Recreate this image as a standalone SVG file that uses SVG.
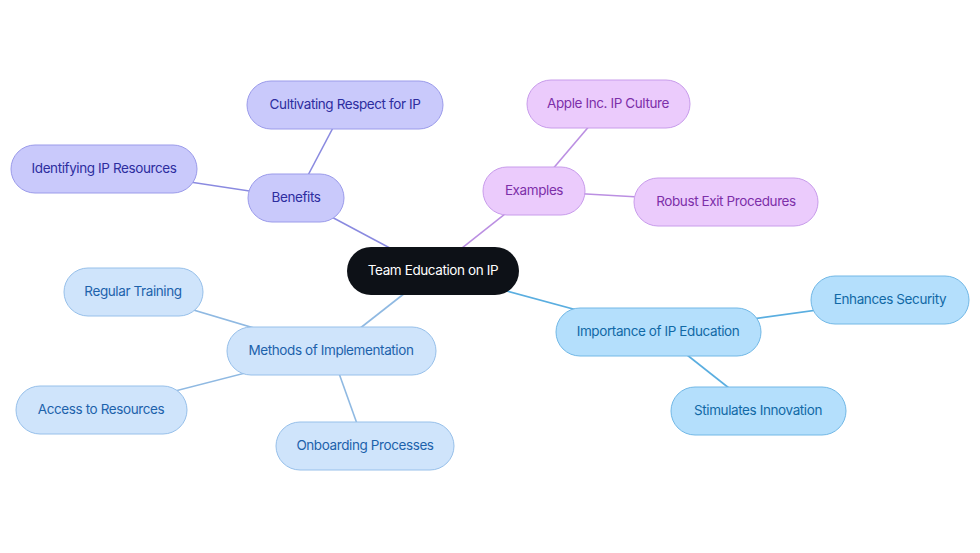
<svg xmlns="http://www.w3.org/2000/svg" width="980" height="553" viewBox="0 0 980 553">
<style>
text{font-family:Inter,"Noto Sans","Liberation Sans",sans-serif;font-size:13.5px;letter-spacing:-0.4px;text-anchor:middle;dominant-baseline:central}
.b rect{fill:#c9c9fb;stroke:#9b9bea;stroke-width:1}
.b text{fill:#2d2d9f}
.e rect{fill:#ebcbfc;stroke:#c89ceb;stroke-width:1}
.e text{fill:#7d2fa9}
.i rect{fill:#b4dffc;stroke:#72b8e6;stroke-width:1}
.i text{fill:#1169a6}
.m rect{fill:#cfe4fb;stroke:#97c0ea;stroke-width:1}
.m text{fill:#1d62ab}
.c rect{fill:#0d1117}
.c text{fill:#ffffff}
#edges line{stroke-width:1.6}
.lb{stroke:#8a8ae0}.le{stroke:#bb8fe2}.li{stroke:#5aaee0}.lm{stroke:#8fb9e2}
</style>
<rect width="980" height="553" fill="#ffffff"/>
<g id="edges">
<line class="lb" x1="433" y1="271" x2="296" y2="198"/>
<line class="lb" x1="296" y1="198" x2="345" y2="105"/>
<line class="lb" x1="296" y1="198" x2="104" y2="169"/>
<line class="le" x1="433" y1="271" x2="534" y2="191"/>
<line class="le" x1="534" y1="191" x2="608" y2="104"/>
<line class="le" x1="534" y1="191" x2="726" y2="202"/>
<line class="li" x1="433" y1="271" x2="658" y2="332"/>
<line class="li" x1="658" y1="332" x2="890" y2="300"/>
<line class="li" x1="658" y1="332" x2="758" y2="411"/>
<line class="lm" x1="433" y1="271" x2="331" y2="351"/>
<line class="lm" x1="331" y1="351" x2="133" y2="292"/>
<line class="lm" x1="331" y1="351" x2="101" y2="410"/>
<line class="lm" x1="331" y1="351" x2="365" y2="446"/>
</g>
<g id="n-center" class="c"><rect x="347" y="247" width="172" height="48" rx="24"/><text x="433" y="270">Team Education on IP</text></g>
<g id="n-benefits" class="b"><rect x="248" y="174" width="96" height="48" rx="24"/><text x="296" y="197">Benefits</text></g>
<g id="n-cultivating" class="b"><rect x="247" y="81" width="196" height="48" rx="24"/><text x="345" y="104">Cultivating Respect for IP</text></g>
<g id="n-identifying" class="b"><rect x="11" y="145" width="186" height="48" rx="24"/><text x="104" y="168">Identifying IP Resources</text></g>
<g id="n-examples" class="e"><rect x="483" y="167" width="102" height="48" rx="24"/><text x="534" y="190">Examples</text></g>
<g id="n-apple" class="e"><rect x="527" y="80" width="163" height="48" rx="24"/><text x="608" y="103">Apple Inc. IP Culture</text></g>
<g id="n-robust" class="e"><rect x="634" y="178" width="184" height="48" rx="24"/><text x="726" y="201">Robust Exit Procedures</text></g>
<g id="n-importance" class="i"><rect x="556" y="308" width="205" height="48" rx="24"/><text x="658" y="331">Importance of IP Education</text></g>
<g id="n-enhances" class="i"><rect x="811" y="276" width="158" height="48" rx="24"/><text x="890" y="299">Enhances Security</text></g>
<g id="n-stimulates" class="i"><rect x="671" y="387" width="175" height="48" rx="24"/><text x="758" y="410">Stimulates Innovation</text></g>
<g id="n-methods" class="m"><rect x="227" y="327" width="209" height="48" rx="24"/><text x="331" y="350">Methods of Implementation</text></g>
<g id="n-regular" class="m"><rect x="64" y="268" width="139" height="48" rx="24"/><text x="133" y="291">Regular Training</text></g>
<g id="n-access" class="m"><rect x="16" y="386" width="171" height="48" rx="24"/><text x="101" y="409">Access to Resources</text></g>
<g id="n-onboarding" class="m"><rect x="276" y="422" width="178" height="48" rx="24"/><text x="365" y="445">Onboarding Processes</text></g>
</svg>
